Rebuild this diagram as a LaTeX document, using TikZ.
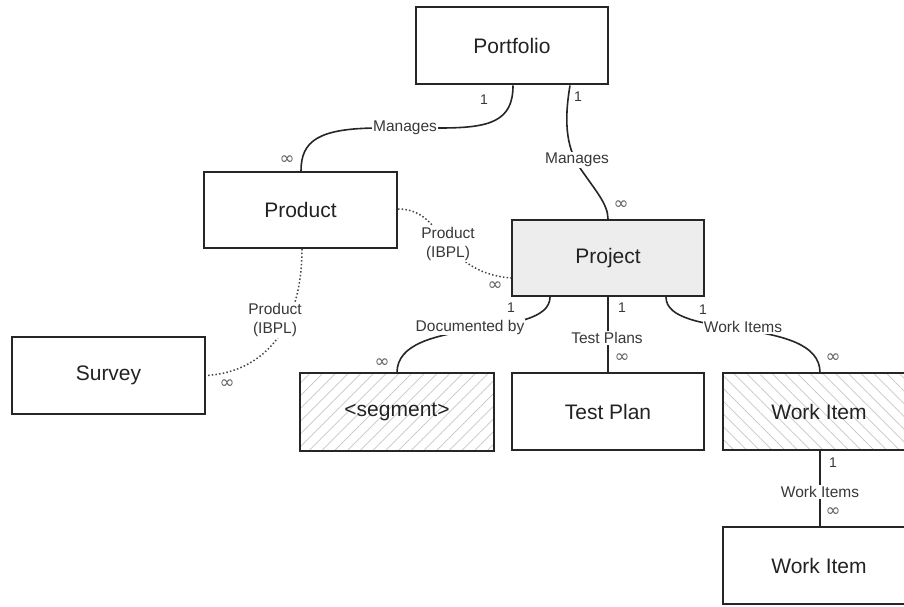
\documentclass[tikz,border=0pt]{standalone}
\usepackage{fontspec}
\setmainfont{Liberation Sans}
\newfontfamily\symfont{DejaVu Sans}
\usetikzlibrary{patterns.meta}
\definecolor{linec}{HTML}{262626}
\definecolor{txtc}{HTML}{222222}
\definecolor{lblc}{HTML}{383838}
\tikzset{
  entity/.style={draw=linec, line width=2pt, minimum width=192pt, minimum height=77pt, inner sep=0pt,
    font=\fontsize{21}{24}\selectfont, text=txtc},
  etext/.style={text=txtc, font=\fontsize{21}{24}\selectfont},
  hatchne/.style={pattern={Lines[angle=45,distance=9pt,line width=0.7pt]}, pattern color=gray!45},
  hatchnw/.style={pattern={Lines[angle=-45,distance=9pt,line width=0.7pt]}, pattern color=gray!45},
  conn/.style={draw=linec, line width=1.6pt},
  dotconn/.style={draw=linec!85, line width=1.5pt, dash pattern=on 1.5pt off 2.2pt},
  rel/.style={fill=white, inner sep=1pt, font=\fontsize{15.5}{19}\selectfont, text=lblc, align=center},
  card/.style={inner sep=0pt, font=\fontsize{14}{15}\selectfont, text=lblc},
  inf/.style={inner sep=0pt, font=\symfont\fontsize{18}{18}\selectfont, text=lblc!80}
}
\begin{document}
\begin{tikzpicture}[x=1pt,y=-1pt]
\useasboundingbox (0,0) rectangle (904,607);
\clip (0,0) rectangle (904,607);
% entities
\node[entity] (portfolio) at (512,46) {Portfolio};
\node[entity, minimum width=193pt, minimum height=76pt] (product) at (300.5,210) {Product};
\node[entity, fill=gray!14, minimum height=76pt] (project) at (608,258) {Project};
\node[entity, minimum width=193pt] (survey) at (108.5,375.5) {Survey};
\node[entity, hatchne, minimum width=194pt, minimum height=78pt] (segment) at (397,412) {};
\node[etext] (segtxt) at (segment.center) {<segment>};
\node[entity] (testplan) at (608,411.5) {Test Plan};
\node[entity, hatchnw] (workitem) at (819,411.5) {};
\node[etext] (witxt) at (workitem.center) {Work Item};
\node[entity] (workitem2) at (819,565.5) {Work Item};
% anchor coordinates on node borders
\coordinate (pfA) at ([xshift=1pt]portfolio.south);
\coordinate (pfB) at ([xshift=58pt]portfolio.south);
\coordinate (prT) at ([xshift=0.5pt]product.north);
\coordinate (prR) at ([yshift=1pt]product.east);
\coordinate (prB) at ([xshift=1.5pt]product.south);
\coordinate (pjT) at (project.north);
\coordinate (pjL) at ([yshift=-20pt]project.west);
\coordinate (pjB1) at ([xshift=-58pt]project.south);
\coordinate (pjB2) at (project.south);
\coordinate (pjB3) at ([xshift=58pt]project.south);
\coordinate (svR) at (survey.east);
\coordinate (sgT) at (segment.north);
\coordinate (tpT) at (testplan.north);
\coordinate (wiT) at ([xshift=1pt]workitem.north);
\coordinate (wiB) at ([xshift=1pt]workitem.south);
\coordinate (wi2T) at ([xshift=1pt]workitem2.north);
% connectors
\draw[conn] (pfA) .. controls ([yshift=-36pt]pfA) and (490,128) .. (440,128) -- (380,128)
  .. controls (318,128) and ([yshift=30pt]prT) .. (prT);
\draw[conn] (pfB) .. controls ([shift={(-7pt,-41pt)}]pfB) and (568,150) .. (580,168)
  .. controls (595,190) and ([yshift=15pt]pjT) .. (pjT);
\draw[dotconn] (prR) .. controls ([xshift=48pt]prR) and ([xshift=-72pt,yshift=6pt]pjL) .. (pjL);
\draw[dotconn] (prB) .. controls ([yshift=-82pt]prB) and ([xshift=55pt,yshift=3pt]svR) .. (svR);
\draw[conn] (pjB1) .. controls ([yshift=-44pt]pjB1) and ([yshift=58pt]sgT) .. (sgT);
\draw[conn] (pjB2) -- (tpT);
\draw[conn] (pjB3) .. controls ([yshift=-44pt]pjB3) and ([yshift=58pt]wiT) .. (wiT);
\draw[conn] (wiB) -- (wi2T);
% relation labels
\node[rel] (l1) at (405,128) {Manages};
\node[rel] (l2) at (577,160) {Manages};
\node[rel] (l3) at (448,244) {Product\\(IBPL)};
\node[rel] (l4) at (275,320) {Product\\(IBPL)};
\node[rel] (l5) at (470,327) {Documented by};
\node[rel] (l6) at (607,338) {Test Plans};
\node[rel] (l7) at (743,327) {Work Items};
\node[rel] (l8) at (820,492) {Work Items};
% cardinalities
\node[card] (c1a) at (484,100) {1};
\node[inf] (c1b) at (287,160) {∞};
\node[card] (c2a) at (578,97) {1};
\node[inf] (c2b) at (621,205) {∞};
\node[inf] (c3b) at (495,286) {∞};
\node[inf] (c4b) at (227,384) {∞};
\node[card] (c5a) at (511,308) {1};
\node[inf] (c5b) at (382,363) {∞};
\node[card] (c6a) at (622,308) {1};
\node[inf] (c6b) at (622,358) {∞};
\node[card] (c7a) at (703,310) {1};
\node[inf] (c7b) at (833,358) {∞};
\node[card] (c8a) at (833,463) {1};
\node[inf] (c8b) at (833,512) {∞};
\end{tikzpicture}
\end{document}
